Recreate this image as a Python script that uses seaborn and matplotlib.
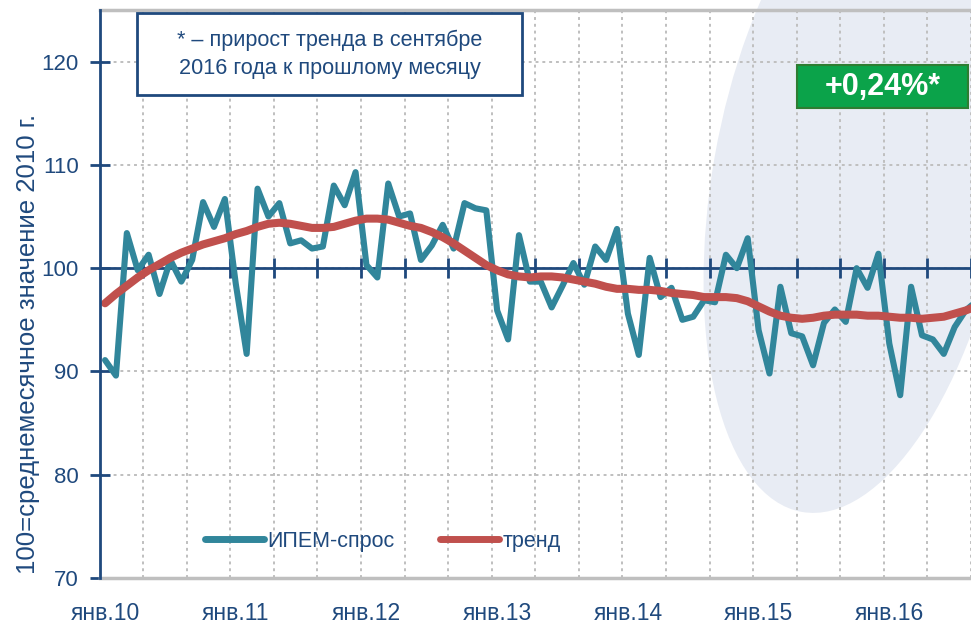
import numpy as np
import pandas as pd
import matplotlib
matplotlib.use("Agg")
import matplotlib.pyplot as plt
import seaborn as sns
from matplotlib.patches import Ellipse, Rectangle
from matplotlib.transforms import IdentityTransform

# ИПЕМ-спрос, январь 2010 - сентябрь 2016 (100 = среднемесячное значение 2010 г.)
spros = [91.1, 89.6, 103.4, 99.8, 101.3, 97.5, 100.8, 98.7, 100.8, 106.4, 104.0, 106.7,
         98.5, 91.7, 107.7, 105.0, 106.3, 102.4, 102.7, 101.9, 102.1, 108.0, 106.1, 109.3,
         100.3, 99.1, 108.2, 105.0, 105.3, 100.8, 102.2, 104.2, 101.9, 106.3, 105.8, 105.6,
         95.9, 93.1, 103.2, 98.7, 98.7, 96.2, 98.3, 100.5, 98.4, 102.1, 100.8, 103.8,
         95.6, 91.6, 101.0, 97.2, 98.1, 95.0, 95.3, 96.9, 96.7, 101.3, 100.0, 102.9,
         94.0, 89.8, 98.2, 93.7, 93.4, 90.6, 94.7, 96.0, 94.8, 100.0, 98.1, 101.4,
         92.7, 87.7, 98.2, 93.5, 93.1, 91.7, 94.3, 95.9, 96.8]

trend = [96.6, 97.5, 98.3, 99.1, 99.8, 100.4, 101.0, 101.5, 101.9, 102.3, 102.6, 102.9,
         103.3, 103.6, 104.0, 104.3, 104.4, 104.3, 104.1, 103.9, 103.9, 104.0, 104.3, 104.6,
         104.8, 104.8, 104.7, 104.4, 104.1, 103.9, 103.5, 103.0, 102.4, 101.7, 101.0, 100.3,
         99.8, 99.4, 99.2, 99.1, 99.2, 99.2, 99.1, 98.9, 98.7, 98.5, 98.2, 98.0,
         98.0, 97.9, 97.9, 97.8, 97.6, 97.5, 97.4, 97.2, 97.2, 97.2, 97.1, 96.8,
         96.3, 95.8, 95.4, 95.2, 95.1, 95.2, 95.4, 95.5, 95.5, 95.5, 95.4, 95.4,
         95.3, 95.2, 95.2, 95.1, 95.2, 95.3, 95.6, 95.9, 96.3]

year_labels = ["янв.10", "янв.11", "янв.12", "янв.13", "янв.14", "янв.15", "янв.16"]
note_text = "* – прирост тренда в сентябре\n2016 года к прошлому месяцу"
badge_text = "+0,24%*"

DARK = "#1F497D"
GRID = "#BFBFBF"

sns.set_style("white")
plt.rcParams["font.family"] = ["Liberation Sans", "DejaVu Sans"]

df = pd.DataFrame({"month": np.arange(len(spros)), "ИПЕМ-спрос": spros, "тренд": trend})
long_df = df.melt(id_vars="month", var_name="серия", value_name="value")

fig = plt.figure(figsize=(9.71, 6.23), dpi=100)
ax = fig.add_axes([99.6 / 971, 45 / 623, 1 - 99.6 / 971, 568 / 623])
ax.set_facecolor("none")

# декоративный фон справа
fig.add_artist(Ellipse((860, 623 - 182), 295, 670, angle=-10,
                       transform=IdentityTransform(), facecolor="#E8ECF4",
                       edgecolor="none", zorder=-1))

sns.lineplot(data=long_df, x="month", y="value", hue="серия",
             palette={"ИПЕМ-спрос": "#31869B", "тренд": "#C0504D"},
             ax=ax, legend=True)
lines = ax.get_lines()
lines[0].set_linewidth(4.4)
lines[0].set_zorder(3)
lines[1].set_linewidth(5.8)
lines[1].set_zorder(4)

ax.set_xlim(-0.5, 79.27)
ax.set_ylim(70, 125)

# оси и сетка
ax.set_xticks(np.arange(0, 80, 12))
ax.set_xticklabels(year_labels)
ax.set_xticks(np.arange(3.5, 80, 4), minor=True)
ax.set_yticks([70, 80, 90, 100, 110, 120])
ax.grid(which="minor", axis="x", color=GRID, linestyle=(0, (1.5, 2)), linewidth=1.4)
ax.grid(which="major", axis="y", color=GRID, linestyle=(0, (1.5, 2)), linewidth=1.4)
ax.grid(which="major", axis="x", visible=False)
ax.tick_params(axis="x", which="both", length=0, pad=17, labelsize=16.5, labelcolor=DARK)
ax.tick_params(axis="y", direction="inout", length=14, width=2, color=DARK,
               pad=8, labelsize=16, labelcolor=DARK, left=True)

ax.axhline(100, color=DARK, linewidth=2, zorder=2)
minor_pos = np.arange(3.5, 80, 4)
ax.plot(minor_pos, np.full(len(minor_pos), 100.0), linestyle="none",
        marker="|", markersize=14, markeredgewidth=2, color=DARK, zorder=2)

for side in ["top", "bottom"]:
    ax.spines[side].set_color(GRID)
    ax.spines[side].set_linewidth(2.5)
ax.spines["right"].set_visible(False)
ax.spines["left"].set_color(DARK)
ax.spines["left"].set_linewidth(2)
ax.spines["left"].set_zorder(5)

ax.set_xlabel("")
ax.set_ylabel("100=среднемесячное значение 2010 г.", fontsize=18.5, color=DARK)
ax.yaxis.set_label_coords(-0.068, 0.412)

leg = ax.legend(ncol=2, loc="center left", bbox_to_anchor=(0.121, 0.065),
                frameon=False, fontsize=15.5, handlelength=2.75, handletextpad=0.15,
                columnspacing=2.1, borderpad=0, borderaxespad=0)
for t in leg.get_texts():
    t.set_color(DARK)
for h in leg.legend_handles:
    h.set_linewidth(5)

# пояснение
ax.add_patch(Rectangle((0.0429, 0.8504), 0.4418, 0.1443, transform=ax.transAxes,
                       facecolor="white", edgecolor=DARK, linewidth=2, zorder=6,
                       clip_on=False))
ax.text(0.2644, 0.9225, note_text, transform=ax.transAxes, ha="center", va="center",
        fontsize=15.6, color=DARK, linespacing=1.45, zorder=7)

ax.add_patch(Rectangle((0.8003, 0.8275), 0.1962, 0.0757, transform=ax.transAxes,
                       facecolor="#0BA34A", edgecolor="#2E7D32", linewidth=1.5, zorder=6,
                       clip_on=False))
ax.text(0.8984, 0.8653, badge_text, transform=ax.transAxes, ha="center", va="center",
        fontsize=22, fontweight="bold", color="white", zorder=7)

fig.savefig("out.png", dpi=100)
